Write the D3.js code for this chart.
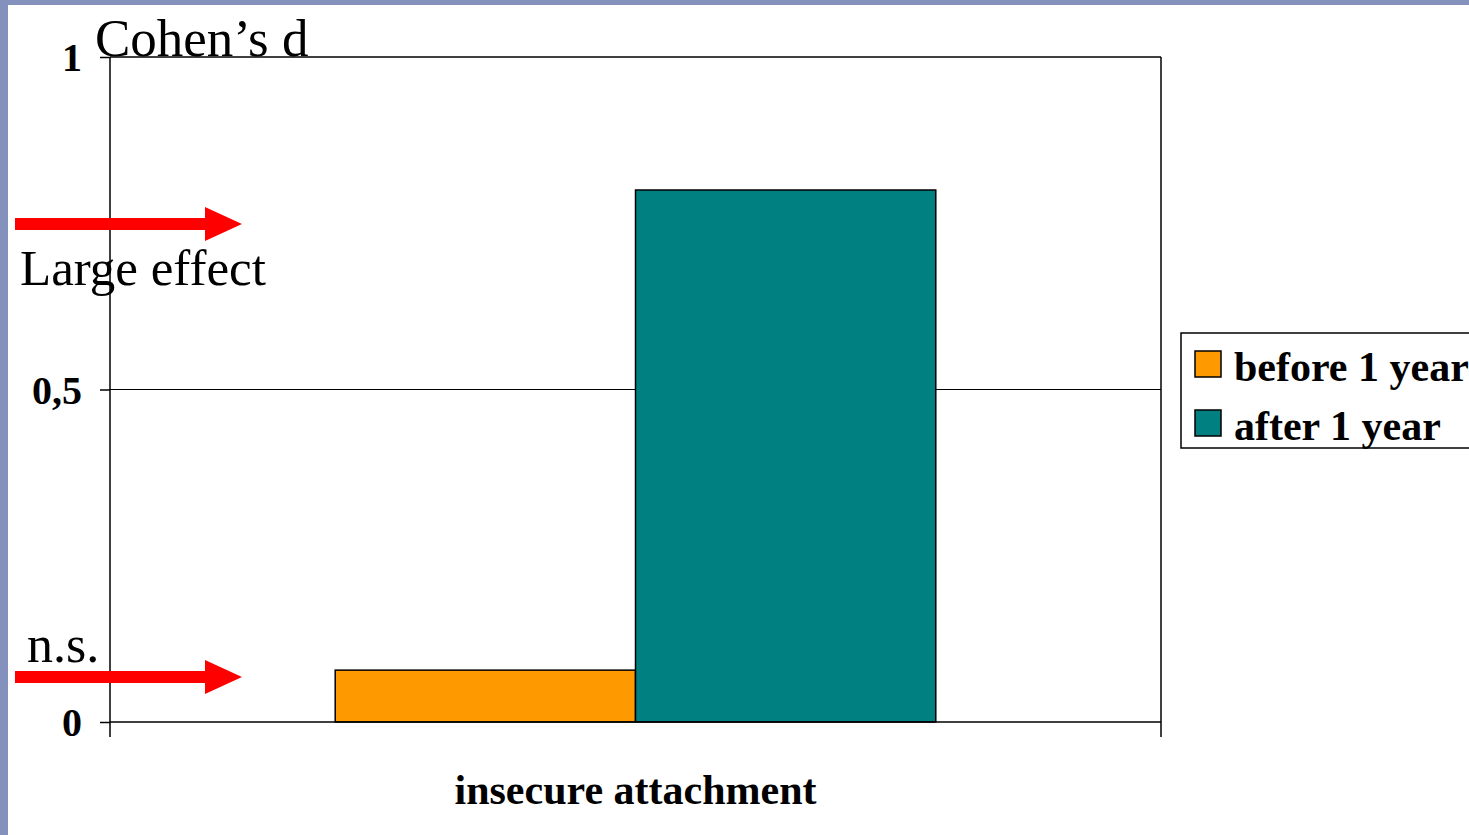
<!DOCTYPE html>
<html>
<head>
<meta charset="utf-8">
<script src="https://cdn.jsdelivr.net/npm/d3@7"></script>
<style>
  html, body { margin: 0; padding: 0; background: #fff; overflow: hidden; }
  svg { display: block; }
</style>
</head>
<body>
<svg id="chart" width="1469" height="835"></svg>
<script>
// Effect sizes (Cohen's d) for insecure attachment
const categories = ["insecure attachment"];
const seriesNames = ["before 1 year", "after 1 year"];
const seriesValues = [0.078, 0.8];
const seriesColors = ["#ff9900", "#008080"];
const yTickValues = [0, 0.5, 1];
const yTickLabels = ["0", "0,5", "1"];
// Reference markers on the left side
const markerLabels = ["Large effect", "n.s."];

const svg = d3.select("#chart");
const W = 1469, H = 835;
const plot = { left: 110, right: 1161, top: 57, bottom: 722 };
const serif = "'Liberation Serif', 'Times New Roman', serif";

// slide frame
svg.append("rect").attr("x", 0).attr("y", 0).attr("width", W).attr("height", H).attr("fill", "#fff");
svg.append("rect").attr("x", 0).attr("y", 0).attr("width", W).attr("height", 5).attr("fill", "#8591bd");
svg.append("rect").attr("x", 0).attr("y", 0).attr("width", 8).attr("height", H).attr("fill", "#8591bd");

const y = d3.scaleLinear().domain([0, 1]).range([plot.bottom, plot.top]);
const x = d3.scaleBand().domain(categories).range([plot.left, plot.right]).paddingInner(0).paddingOuter(0);
// bars sit with a gap of 150% of a bar width around each group
const barW = x.bandwidth() / (seriesNames.length + 1.5);
const xs = d3.scaleBand().domain(seriesNames)
  .range([x.bandwidth() / 2 - barW * seriesNames.length / 2, x.bandwidth() / 2 + barW * seriesNames.length / 2]);

// plot frame (top and right edges)
svg.append("line").attr("x1", plot.left).attr("x2", plot.right).attr("y1", y(1)).attr("y2", y(1))
  .attr("stroke", "#000").attr("stroke-width", 1.5);
svg.append("line").attr("x1", plot.right).attr("x2", plot.right).attr("y1", y(1)).attr("y2", y(0))
  .attr("stroke", "#000").attr("stroke-width", 1.5);

// gridline at 0.5
svg.append("line").attr("x1", plot.left).attr("x2", plot.right).attr("y1", y(0.5)).attr("y2", y(0.5))
  .attr("stroke", "#000").attr("stroke-width", 1.2);

// bars
const g = svg.append("g").attr("transform", `translate(${x(categories[0])},0)`);
g.selectAll("rect.bar").data(seriesValues).join("rect")
  .attr("class", "bar")
  .attr("x", (d, i) => xs(seriesNames[i]))
  .attr("y", d => y(d))
  .attr("width", xs.bandwidth())
  .attr("height", d => y(0) - y(d))
  .attr("fill", (d, i) => seriesColors[i])
  .attr("stroke", "#000").attr("stroke-width", 1.5);

// y axis
const yAxis = d3.axisLeft(y).tickValues(yTickValues)
  .tickFormat((d, i) => yTickLabels[i]).tickSize(10).tickPadding(18);
const ya = svg.append("g").attr("transform", `translate(${plot.left},0)`).call(yAxis);
ya.select(".domain").attr("stroke", "#000").attr("stroke-width", 1.5).attr("d", `M0,${y(1)}V${y(0)}`);
ya.selectAll(".tick line").attr("stroke", "#000").attr("stroke-width", 1.5);
ya.selectAll(".tick text").attr("font-family", serif).attr("font-weight", "bold")
  .attr("font-size", 40).attr("fill", "#000").attr("dy", "0.34em");

// x axis
const xAxis = d3.axisBottom(x).tickSize(0).tickFormat(() => "");
const xa = svg.append("g").attr("transform", `translate(0,${plot.bottom})`).call(xAxis);
xa.select(".domain").attr("stroke", "#000").attr("stroke-width", 1.5).attr("d", `M${plot.left},0H${plot.right}`);
[plot.left, plot.right].forEach(px => {
  xa.append("line").attr("x1", px).attr("x2", px).attr("y1", 0).attr("y2", 15)
    .attr("stroke", "#000").attr("stroke-width", 1.5);
});
svg.append("text").attr("x", x(categories[0]) + x.bandwidth() / 2).attr("y", 804)
  .attr("text-anchor", "middle").attr("font-family", serif).attr("font-weight", "bold")
  .attr("font-size", 42).attr("fill", "#000").text(categories[0]);

// axis title
svg.append("text").attr("x", 95).attr("y", 56).attr("font-family", serif)
  .attr("font-size", 53).attr("fill", "#000").text("Cohen\u2019s d");

// legend
const lg = svg.append("g");
lg.append("rect").attr("x", 1181).attr("y", 333).attr("width", 300).attr("height", 115)
  .attr("fill", "#fff").attr("stroke", "#000").attr("stroke-width", 1.5);
seriesNames.forEach((name, i) => {
  const yy = 351 + i * 59;
  lg.append("rect").attr("x", 1195).attr("y", yy).attr("width", 26).attr("height", 26)
    .attr("fill", seriesColors[i]).attr("stroke", "#000").attr("stroke-width", 1.5);
  lg.append("text").attr("x", 1234).attr("y", yy + 30).attr("font-family", serif)
    .attr("font-weight", "bold").attr("font-size", 42).attr("fill", "#000").text(name);
});

// red arrows with labels
const arrowY = [224, 677];
const labelPos = [{ x: 20, y: 285 }, { x: 27, y: 662 }];
const labelSize = [51, 52];
markerLabels.forEach((lab, i) => {
  const ay = arrowY[i];
  svg.append("path")
    .attr("d", `M15,${ay - 6}H205V${ay - 17}L242,${ay}L205,${ay + 17}V${ay + 6}H15Z`)
    .attr("fill", "#ff0000");
  svg.append("text").attr("x", labelPos[i].x).attr("y", labelPos[i].y).attr("font-family", serif)
    .attr("font-size", labelSize[i]).attr("fill", "#000").text(lab);
});
</script>
</body>
</html>
